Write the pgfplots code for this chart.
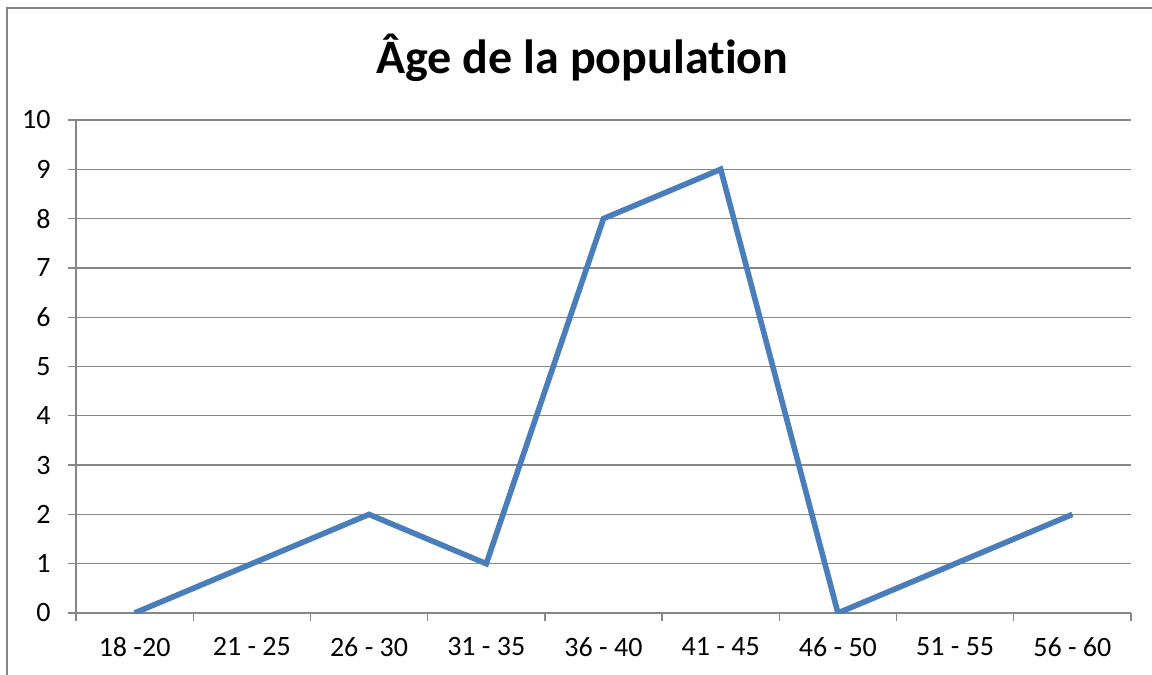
\documentclass[border=0pt]{standalone}
\usepackage{pgfplots}
\pgfplotsset{compat=1.18}
\usepackage{fontspec}
\setmainfont[Ligatures=NoCommon]{Carlito}
\definecolor{gridgray}{RGB}{134,134,134}
\definecolor{series}{RGB}{74,126,187}
\begin{document}
\begin{tikzpicture}
\useasboundingbox (0,0) rectangle (432pt,-253.125pt);
\draw[gridgray, line width=0.6pt] (2.625pt,-270pt) -- (2.625pt,-3pt) -- (450pt,-3pt);
\node[font=\fontsize{18}{22}\selectfont\bfseries] at (218.4pt,-21.75pt) {Âge de la population};
\begin{axis}[
  at={(28.5pt,-229.875pt)}, anchor=south west,
  scale only axis, width=395.625pt, height=184.875pt,
  xmin=0, xmax=9, ymin=0, ymax=10,
  xtick={0.5,1.5,2.5,3.5,4.5,5.5,6.5,7.5,8.5},
  xticklabels={18 -20, 21 - 25, 26 - 30, 31 - 35, 36 - 40, 41 - 45, 46 - 50, 51 - 55, 56 - 60},
  major x tick style={draw=none},
  minor xtick={0,1,2,3,4,5,6,7,8,9},
  ytick={0,1,2,3,4,5,6,7,8,9,10},
  tick align=outside,
  major tick length=3pt, minor tick length=3pt,
  axis x line*=bottom, axis y line*=left,
  ymajorgrids,
  grid style={gridgray, line width=0.5pt},
  axis line style={gridgray, line width=0.5pt},
  tick style={gridgray, line width=0.5pt},
  ticklabel style={font=\fontsize{10.5}{12}\selectfont, text=black},
  xticklabel style={yshift=-2.6pt},
  yticklabel style={xshift=-3pt},
  /pgf/number format/assume math mode=true,
]
\addplot[series, line width=2.1pt] coordinates {
  (0.5,0) (1.5,1) (2.5,2) (3.5,1) (4.5,8) (5.5,9) (6.5,0) (7.5,1) (8.5,2)
};
\end{axis}
\end{tikzpicture}
\end{document}
